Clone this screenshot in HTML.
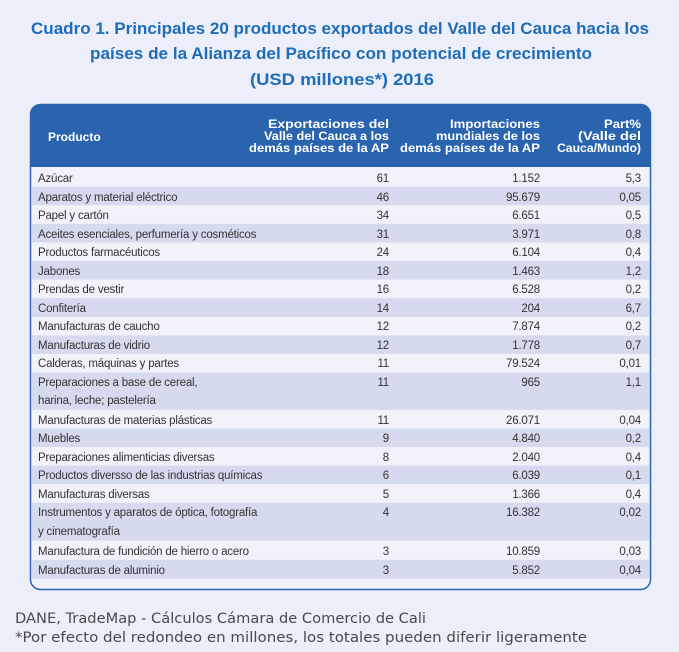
<!DOCTYPE html>
<html><head><meta charset="utf-8"><style>
html,body{margin:0;padding:0;background:#eceef9;}
svg{display:block}
</style></head><body>
<svg width="679" height="652" viewBox="0 0 679 652" xmlns="http://www.w3.org/2000/svg">
<rect width="679" height="652" fill="#eceef9"/>
<g font-family="Liberation Sans, sans-serif" font-weight="bold" font-size="17" fill="#1f6db8" text-anchor="middle">
<text x="340" y="34" textLength="618" lengthAdjust="spacingAndGlyphs">Cuadro 1. Principales 20 productos exportados del Valle del Cauca hacia los</text>
<text x="341" y="59" textLength="502" lengthAdjust="spacingAndGlyphs">países de la Alianza del Pacífico con potencial de crecimiento</text>
<text x="342" y="85" textLength="184" lengthAdjust="spacingAndGlyphs">(USD millones*) 2016</text>
</g>
<rect x="30.5" y="104.5" width="620" height="485" rx="10" fill="#f1f2fa" stroke="#2a63ae" stroke-width="1.5"/>
<path d="M30.5 167 V114.5 a10 10 0 0 1 10 -10 H640.5 a10 10 0 0 1 10 10 V167 Z" fill="#2a63ae"/>
<g font-family="Liberation Sans, sans-serif" font-weight="bold" font-size="12" fill="#fff" text-anchor="end">
<text x="48" y="141" text-anchor="start">Producto</text>
<text x="389" y="128" textLength="121" lengthAdjust="spacingAndGlyphs">Exportaciones del</text>
<text x="389" y="140" textLength="125" lengthAdjust="spacingAndGlyphs">Valle del Cauca a los</text>
<text x="389" y="152" textLength="140" lengthAdjust="spacingAndGlyphs">demás países de la AP</text>
<text x="540" y="128" textLength="90" lengthAdjust="spacingAndGlyphs">Importaciones</text>
<text x="540" y="140" textLength="104" lengthAdjust="spacingAndGlyphs">mundiales de los</text>
<text x="540" y="152" textLength="140" lengthAdjust="spacingAndGlyphs">demás países de la AP</text>
<text x="641" y="128" textLength="37" lengthAdjust="spacingAndGlyphs">Part%</text>
<text x="641" y="140" textLength="63" lengthAdjust="spacingAndGlyphs">(Valle del</text>
<text x="641" y="152" textLength="84" lengthAdjust="spacingAndGlyphs">Cauca/Mundo)</text>
</g>
<g fill="#d5daef">
<rect x="32" y="186.6" width="617" height="18.6"/>
<rect x="32" y="223.8" width="617" height="18.6"/>
<rect x="32" y="261" width="617" height="18.6"/>
<rect x="32" y="298.2" width="617" height="18.6"/>
<rect x="32" y="335.4" width="617" height="18.6"/>
<rect x="32" y="372.6" width="617" height="37.2"/>
<rect x="32" y="428.4" width="617" height="18.6"/>
<rect x="32" y="465.6" width="617" height="18.6"/>
<rect x="32" y="502.8" width="617" height="37.8"/>
<rect x="32" y="559.8" width="617" height="18.8"/>
</g>
<g font-family="Liberation Sans, sans-serif" font-size="11.5" fill="#333" letter-spacing="-0.2">
<g>
<text x="38" y="182">Azúcar</text>
<text x="38" y="201">Aparatos y material eléctrico</text>
<text x="38" y="219">Papel y cartón</text>
<text x="38" y="238">Aceites esenciales, perfumería y cosméticos</text>
<text x="38" y="256">Productos farmacéuticos</text>
<text x="38" y="275">Jabones</text>
<text x="38" y="293">Prendas de vestir</text>
<text x="38" y="312">Confitería</text>
<text x="38" y="330">Manufacturas de caucho</text>
<text x="38" y="349">Manufacturas de vidrio</text>
<text x="38" y="367">Calderas, máquinas y partes</text>
<text x="38" y="386">Preparaciones a base de cereal,</text>
<text x="38" y="404">harina, leche; pastelería</text>
<text x="38" y="424">Manufacturas de materias plásticas</text>
<text x="38" y="442">Muebles</text>
<text x="38" y="461">Preparaciones alimenticias diversas</text>
<text x="38" y="479">Productos diversso de las industrias químicas</text>
<text x="38" y="498">Manufacturas diversas</text>
<text x="38" y="516">Instrumentos y aparatos de óptica, fotografía</text>
<text x="38" y="535">y cinematografía</text>
<text x="38" y="555">Manufactura de fundición de hierro o acero</text>
<text x="38" y="574">Manufacturas de aluminio</text>
</g>
<g text-anchor="end">
<text x="389" y="182">61</text><text x="540" y="182">1.152</text><text x="641" y="182">5,3</text>
<text x="389" y="201">46</text><text x="540" y="201">95.679</text><text x="641" y="201">0,05</text>
<text x="389" y="219">34</text><text x="540" y="219">6.651</text><text x="641" y="219">0,5</text>
<text x="389" y="238">31</text><text x="540" y="238">3.971</text><text x="641" y="238">0,8</text>
<text x="389" y="256">24</text><text x="540" y="256">6.104</text><text x="641" y="256">0,4</text>
<text x="389" y="275">18</text><text x="540" y="275">1.463</text><text x="641" y="275">1,2</text>
<text x="389" y="293">16</text><text x="540" y="293">6.528</text><text x="641" y="293">0,2</text>
<text x="389" y="312">14</text><text x="540" y="312">204</text><text x="641" y="312">6,7</text>
<text x="389" y="330">12</text><text x="540" y="330">7.874</text><text x="641" y="330">0,2</text>
<text x="389" y="349">12</text><text x="540" y="349">1.778</text><text x="641" y="349">0,7</text>
<text x="389" y="367">11</text><text x="540" y="367">79.524</text><text x="641" y="367">0,01</text>
<text x="389" y="386">11</text><text x="540" y="386">965</text><text x="641" y="386">1,1</text>
<text x="389" y="424">11</text><text x="540" y="424">26.071</text><text x="641" y="424">0,04</text>
<text x="389" y="442">9</text><text x="540" y="442">4.840</text><text x="641" y="442">0,2</text>
<text x="389" y="461">8</text><text x="540" y="461">2.040</text><text x="641" y="461">0,4</text>
<text x="389" y="479">6</text><text x="540" y="479">6.039</text><text x="641" y="479">0,1</text>
<text x="389" y="498">5</text><text x="540" y="498">1.366</text><text x="641" y="498">0,4</text>
<text x="389" y="516">4</text><text x="540" y="516">16.382</text><text x="641" y="516">0,02</text>
<text x="389" y="555">3</text><text x="540" y="555">10.859</text><text x="641" y="555">0,03</text>
<text x="389" y="574">3</text><text x="540" y="574">5.852</text><text x="641" y="574">0,04</text>
</g>
</g>
<g font-family="DejaVu Sans, sans-serif" font-size="14" fill="#4a4a4a">
<text x="15" y="623" textLength="411" lengthAdjust="spacingAndGlyphs">DANE, TradeMap - Cálculos Cámara de Comercio de Cali</text>
<text x="15" y="642" textLength="572" lengthAdjust="spacingAndGlyphs">*Por efecto del redondeo en millones, los totales pueden diferir ligeramente</text>
</g>
</svg>
</body></html>
